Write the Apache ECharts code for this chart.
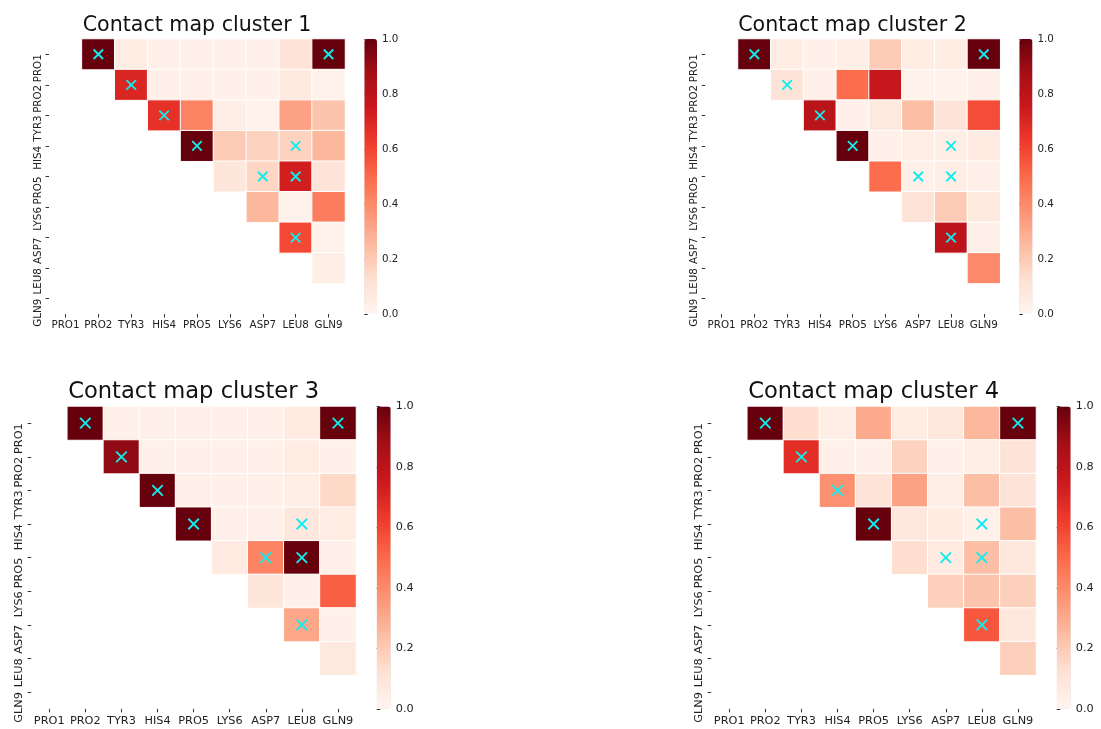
<!DOCTYPE html>
<html>
<head>
<meta charset="utf-8">
<script src="https://cdn.jsdelivr.net/npm/echarts@6/dist/echarts.min.js"></script>
<style>
html,body{margin:0;padding:0;background:#fff;}
#chart{width:1101px;height:729px;}
</style>
</head>
<body>
<div id="chart"></div>
<script>
// ---- data ----
const residues = ['PRO1','PRO2','TYR3','HIS4','PRO5','LYS6','ASP7','LEU8','GLN9'];
const titles = ['Contact map cluster 1','Contact map cluster 2','Contact map cluster 3','Contact map cluster 4'];
const colorbarTicks = [0.0, 0.2, 0.4, 0.6, 0.8, 1.0];

// upper-triangle rows: row i holds columns i+1 .. 8
const cluster1 = [
  [1.00, 0.05, 0.03, 0.03, 0.03, 0.03, 0.10, 1.00],
  [0.70, 0.03, 0.03, 0.03, 0.03, 0.07, 0.02],
  [0.66, 0.42, 0.04, 0.02, 0.33, 0.22],
  [1.00, 0.20, 0.17, 0.17, 0.26],
  [0.09, 0.16, 0.73, 0.10],
  [0.26, 0.02, 0.44],
  [0.59, 0.02],
  [0.04]
];
const cluster2 = [
  [1.00, 0.05, 0.03, 0.04, 0.20, 0.05, 0.05, 1.00],
  [0.10, 0.03, 0.49, 0.77, 0.02, 0.02, 0.03],
  [0.81, 0.03, 0.07, 0.24, 0.10, 0.58],
  [1.00, 0.03, 0.04, 0.04, 0.06],
  [0.49, 0.03, 0.04, 0.03],
  [0.10, 0.20, 0.07],
  [0.80, 0.03],
  [0.40]
];
const cluster3 = [
  [1.00, 0.03, 0.03, 0.03, 0.03, 0.03, 0.06, 1.00],
  [0.92, 0.03, 0.03, 0.03, 0.03, 0.05, 0.03],
  [1.00, 0.03, 0.03, 0.03, 0.04, 0.15],
  [1.00, 0.03, 0.03, 0.08, 0.05],
  [0.06, 0.42, 1.00, 0.03],
  [0.09, 0.03, 0.53],
  [0.31, 0.03],
  [0.07]
];
const cluster4 = [
  [1.00, 0.13, 0.04, 0.30, 0.05, 0.08, 0.26, 1.00],
  [0.67, 0.03, 0.03, 0.17, 0.03, 0.04, 0.10],
  [0.38, 0.10, 0.33, 0.04, 0.24, 0.10],
  [1.00, 0.08, 0.06, 0.03, 0.24],
  [0.13, 0.06, 0.24, 0.08],
  [0.18, 0.22, 0.18],
  [0.55, 0.08],
  [0.18]
];
const clusters = [cluster1, cluster2, cluster3, cluster4];

// native contacts marked with a cross
const crossRows = ['PRO1','PRO1','PRO2','TYR3','HIS4','HIS4','PRO5','PRO5','ASP7'];
const crossCols = ['PRO2','GLN9','TYR3','HIS4','PRO5','LEU8','ASP7','LEU8','LEU8'];

// ---- styling / layout ----
const reds = ['#fff5f0','#fee0d2','#fcbba1','#fc9272','#fb6a4a','#ef3b2c','#cb181d','#a50f15','#67000d'];
const FONT = 'DejaVu Sans';
const panels = [
  {left:49,    top:39,    width:296,   height:275,   cbLeft:364.3,  cbWidth:12.7, titleX:197,   titleY:15.5,  titleSize:20.6, font:10.3, cross:9.5,  xm:6, ym:6},
  {left:705.2, top:39,    width:295,   height:275,   cbLeft:1019.3, cbWidth:13.2, titleX:852.5, titleY:15.5,  titleSize:20.6, font:10.3, cross:9.5,  xm:6, ym:6},
  {left:31.2,  top:406.4, width:324.8, height:302.4, cbLeft:376.7,  cbWidth:14,   titleX:193.6, titleY:381,   titleSize:22.6, font:11.3, cross:10.5, xm:7, ym:7},
  {left:711.2, top:406.4, width:324.8, height:302.4, cbLeft:1056.7, cbWidth:14,   titleX:873.6, titleY:381,   titleSize:22.6, font:11.3, cross:10.5, xm:7, ym:7}
];

const grid = [], xAxis = [], yAxis = [], series = [], visualMap = [], title = [];

panels.forEach((p, k) => {
  grid.push({left:p.left, top:p.top, width:p.width, height:p.height, containLabel:false});
  xAxis.push({
    gridIndex:k, type:'category', data:residues, position:'bottom',
    axisLine:{show:false},
    axisTick:{show:true, alignWithLabel:true, length:3.5, lineStyle:{color:'#333', width:1}},
    axisLabel:{interval:0, fontSize:p.font, fontFamily:FONT, color:'#222', margin:p.xm},
    splitLine:{show:false}, splitArea:{show:false}
  });
  yAxis.push({
    gridIndex:k, type:'category', data:residues, inverse:true,
    axisLine:{show:false},
    axisTick:{show:true, alignWithLabel:true, length:3.5, lineStyle:{color:'#333', width:1}},
    axisLabel:{interval:0, rotate:90, align:'right', verticalAlign:'bottom', fontSize:p.font, fontFamily:FONT, color:'#222', margin:p.ym},
    splitLine:{show:false}, splitArea:{show:false}
  });
  title.push({
    text:titles[k], left:p.titleX, top:p.titleY, textAlign:'center', padding:0,
    textStyle:{fontSize:p.titleSize, fontWeight:'normal', fontFamily:FONT, color:'#111'}
  });
});

panels.forEach((p, k) => {
  grid.push({left:p.cbLeft, top:p.top, width:p.cbWidth, height:p.height, containLabel:false});
  xAxis.push({gridIndex:4+k, type:'value', show:false, min:0, max:1});
  yAxis.push({
    gridIndex:4+k, type:'value', position:'right', min:0, max:1, interval:0.2,
    axisLine:{show:false},
    axisTick:{show:true, length:3.5, lineStyle:{color:'#333', width:1}},
    axisLabel:{show:true, fontSize:p.font, fontFamily:FONT, color:'#222', margin:5,
      formatter:v => colorbarTicks.some(t => Math.abs(t - v) < 1e-9) ? v.toFixed(1) : ''},
    splitLine:{show:false}
  });
});

clusters.forEach((rows, k) => {
  const data = [];
  rows.forEach((vals, i) => {
    vals.forEach((v, n) => {
      const j = i + 1 + n;
      data.push([j, i, v]);
    });
  });
  const p = panels[k];
  series.push({
    type:'heatmap', xAxisIndex:k, yAxisIndex:k, data:data,
    itemStyle:{borderColor:'#ffffff', borderWidth:1},
    emphasis:{disabled:true}, silent:true, z:2
  });
  visualMap.push({
    type:'continuous', min:0, max:1, seriesIndex:series.length - 1,
    inRange:{color:reds}, calculable:false, hoverLink:false, show:true,
    left:p.cbLeft, top:p.top, itemWidth:p.cbWidth, itemHeight:p.height,
    padding:0, text:null, orient:'vertical'
  });
});

clusters.forEach((rows, k) => {
  const p = panels[k];
  const cdata = crossRows.map((r, n) => [residues.indexOf(crossCols[n]), residues.indexOf(r)]);
  series.push({
    type:'scatter', xAxisIndex:k, yAxisIndex:k, data:cdata,
    symbol:'path://M0,0L10,10M10,0L0,10', symbolSize:p.cross,
    itemStyle:{color:'rgba(0,0,0,0)', borderColor:'#12ecec', borderWidth:1.9, opacity:1},
    silent:true, z:5
  });
});

const chart = echarts.init(document.getElementById('chart'), null, {renderer:'canvas'});
chart.setOption({
  backgroundColor:'#ffffff',
  animation:false,
  title:title, grid:grid, xAxis:xAxis, yAxis:yAxis, visualMap:visualMap, series:series
});
</script>
</body>
</html>
